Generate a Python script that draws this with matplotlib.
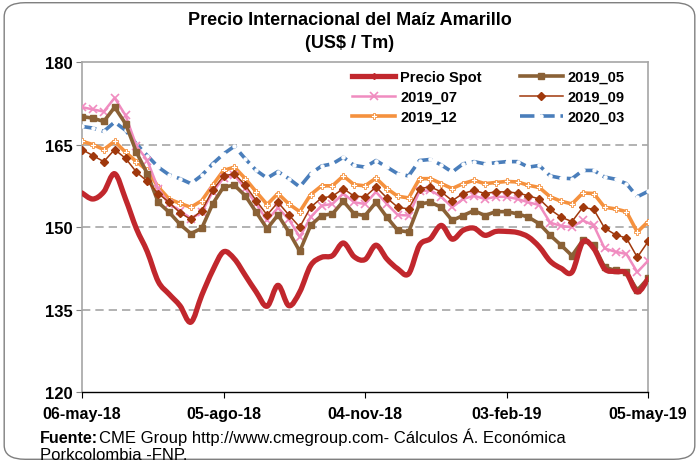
import matplotlib
matplotlib.use("Agg")
import matplotlib.pyplot as plt
import matplotlib.dates as mdates
from matplotlib.path import Path
from matplotlib.patches import PathPatch, FancyBboxPatch
from matplotlib.lines import Line2D
import numpy as np
import pandas as pd

plt.rcParams['font.family'] = ['Liberation Sans', 'DejaVu Sans']

dates = pd.date_range("2018-05-06", periods=53, freq="7D")

spot = [156.2, 155.1, 156.4, 159.7, 155.1, 149.7, 145.5, 140.1, 137.8, 135.7,
        132.7, 137.6, 142.1, 145.5, 144.2, 141.2, 138.2, 135.6, 139.4, 135.7,
        138.2, 143.0, 144.5, 144.8, 147.1, 144.6, 144.1, 146.7, 144.2, 142.4,
        141.5, 146.7, 147.9, 150.3, 147.8, 149.4, 149.8, 148.5, 149.2, 149.2,
        149.0, 148.2, 146.4, 143.8, 142.5, 141.8, 147.3, 146.1, 142.4, 141.9,
        141.6, 138.2, 140.6]
s2019_05 = [170.1, 169.8, 169.2, 171.8, 168.8, 163.6, 159.7, 154.5, 152.7, 150.5,
            148.8, 149.8, 154.2, 157.3, 157.6, 155.7, 152.7, 149.7, 152.2, 149.1,
            145.6, 150.3, 152.1, 152.4, 154.7, 152.4, 152.1, 154.5, 151.8, 149.4,
            149.1, 154.2, 154.5, 153.6, 151.2, 152.1, 153.0, 152.1, 152.8, 152.8,
            152.4, 151.8, 150.6, 148.5, 146.7, 144.8, 147.6, 146.7, 142.7, 142.1,
            141.8, 138.5, 140.7]
s2019_07 = [171.8, 171.4, 171.0, 173.5, 170.3, 164.8, 162.1, 157.0, 154.2, 153.0,
            151.5, 152.7, 156.4, 158.9, 159.4, 157.0, 154.2, 151.2, 153.5, 151.4,
            148.2, 151.8, 153.9, 154.2, 156.1, 154.5, 154.2, 156.4, 154.2, 152.2,
            152.1, 156.5, 156.7, 155.5, 153.6, 155.1, 155.7, 155.1, 155.5, 155.5,
            155.1, 154.5, 154.0, 150.8, 150.2, 150.0, 151.2, 150.3, 146.1, 145.5,
            145.1, 141.8, 143.9]
s2019_09 = [164.1, 163.0, 161.9, 164.1, 162.5, 160.0, 158.3, 156.1, 154.5, 152.6,
            151.4, 153.0, 156.7, 159.3, 159.7, 157.6, 154.8, 152.2, 154.5, 152.2,
            150.0, 153.6, 155.3, 155.6, 157.0, 155.6, 155.5, 157.3, 155.3, 153.6,
            153.3, 157.0, 157.3, 156.4, 154.8, 156.1, 156.7, 156.1, 156.4, 156.4,
            156.2, 155.7, 155.1, 153.2, 151.8, 151.0, 153.6, 153.2, 149.8, 148.6,
            148.0, 144.5, 147.4]
s2019_12 = [165.6, 165.0, 164.1, 165.6, 163.6, 161.9, 160.3, 157.3, 155.1, 154.3,
            153.6, 154.8, 157.6, 160.3, 160.9, 158.8, 156.4, 154.1, 156.1, 154.2,
            152.8, 155.9, 157.5, 157.5, 159.3, 157.7, 157.5, 158.9, 157.0, 155.6,
            155.3, 158.8, 158.8, 157.9, 157.0, 157.9, 158.5, 157.9, 158.1, 158.3,
            158.2, 157.6, 157.2, 155.5, 154.7, 154.2, 156.2, 156.1, 153.6, 153.3,
            152.8, 149.1, 151.0]
s2020_03 = [168.3, 168.0, 167.4, 169.1, 167.6, 165.1, 163.0, 160.9, 159.5, 158.8,
            157.9, 159.4, 161.5, 163.3, 164.7, 162.4, 160.3, 158.9, 160.1, 158.8,
            157.3, 159.7, 161.1, 161.5, 162.7, 161.2, 160.9, 162.1, 160.9, 159.7,
            159.3, 162.1, 162.3, 161.3, 160.0, 161.5, 161.9, 161.5, 161.7, 161.9,
            161.9, 160.9, 161.2, 159.3, 158.9, 158.8, 160.3, 160.3, 159.1, 158.7,
            157.9, 155.5, 156.5]

tick_dates = ["2018-05-06", "2018-08-05", "2018-11-04", "2019-02-03", "2019-05-05"]
tick_labels = ["06-may-18", "05-ago-18", "04-nov-18", "03-feb-19", "05-may-19"]
y_ticks = [120, 135, 150, 165, 180]

c_spot = "#C1272D"
c_05 = "#8A6136"
c_07 = "#F08CC0"
c_09 = "#A0380C"
c_12 = "#F5913E"
c_03 = "#4A7EBB"

fig = plt.figure(figsize=(6.99, 4.64), dpi=100)
fig.patches.append(FancyBboxPatch((0.006, 0.008), 0.988, 0.984,
                                  boxstyle="round,pad=0,rounding_size=0.03",
                                  transform=fig.transFigure, fc="white",
                                  ec="#7F7F7F", lw=1.0, zorder=-1))
ax = fig.add_axes([0.1173, 0.153, 0.81, 0.711])
ax.set_facecolor("none")

x = mdates.date2num(dates)

ax.plot(x, s2020_03, color=c_03, lw=2.6, dashes=(4.0, 1.6), marker='o', ms=2.2,
        mfc='white', mec='white', zorder=3)
ax.plot(x, s2019_12, color=c_12, lw=2.6, marker='P', ms=4.2, mfc='white',
        mec=c_12, mew=0.6, zorder=4)
ax.plot(x, s2019_09, color=c_09, lw=1.1, marker='D', ms=4.2, mfc=c_09,
        mec=c_09, zorder=5)
ax.plot(x, s2019_07, color=c_07, lw=1.8, marker='x', ms=6, mew=1.2, zorder=4)
ax.plot(x, s2019_05, color=c_05, lw=2.6, marker='s', ms=4.2, zorder=4)

# smoothed spot line (Catmull-Rom as Bezier)
ys = np.array(spot)
verts = [(x[0], ys[0])]
codes = [Path.MOVETO]
n = len(x)
for i in range(n - 1):
    p0 = (x[max(i - 1, 0)], ys[max(i - 1, 0)])
    p1 = (x[i], ys[i])
    p2 = (x[i + 1], ys[i + 1])
    p3 = (x[min(i + 2, n - 1)], ys[min(i + 2, n - 1)])
    c1 = (p1[0] + (p2[0] - p0[0]) / 6, p1[1] + (p2[1] - p0[1]) / 6)
    c2 = (p2[0] - (p3[0] - p1[0]) / 6, p2[1] - (p3[1] - p1[1]) / 6)
    verts += [c1, c2, p2]
    codes += [Path.CURVE4] * 3
ax.add_patch(PathPatch(Path(verts, codes), fc='none', ec=c_spot, lw=3.8,
                       capstyle='round', joinstyle='round', zorder=6))

ax.set_xlim(x[0], x[-1])
ax.set_ylim(120, 180)
ax.set_yticks(y_ticks)
ax.set_yticklabels([str(v) for v in y_ticks], fontsize=12, fontweight='bold')
ax.set_xticks(mdates.date2num(pd.to_datetime(tick_dates)))
ax.set_xticklabels(tick_labels, fontsize=11.5, fontweight='bold')
ax.tick_params(axis='x', direction='out', length=4, color='black', pad=6)
ax.tick_params(axis='y', direction='out', length=4, color='#7F7F7F', pad=3)

for v in [135, 150, 165]:
    ax.axhline(v, color='#A6A6A6', lw=1.2, dashes=(5, 3), zorder=1)

for s in ['top', 'right', 'left']:
    ax.spines[s].set_color('#A6A6A6')
    ax.spines[s].set_linewidth(1.2)
ax.spines['bottom'].set_color('black')
ax.spines['bottom'].set_linewidth(1.0)

handles = [
    Line2D([], [], color=c_spot, lw=3.8, marker='D', ms=3, label='Precio Spot'),
    Line2D([], [], color=c_07, lw=1.8, marker='x', ms=6, mew=1.2, label='2019_07'),
    Line2D([], [], color=c_12, lw=2.6, marker='P', ms=4.2, mfc='white', mec=c_12, mew=0.6, label='2019_12'),
    Line2D([], [], color=c_05, lw=2.6, marker='s', ms=4.2, label='2019_05'),
    Line2D([], [], color=c_09, lw=1.1, marker='D', ms=4.2, label='2019_09'),
    Line2D([], [], color=c_03, lw=2.6, dashes=(4.0, 1.6), marker='o', ms=2.2, mfc='white', mec='white', label='2020_03'),
]
leg = ax.legend(handles=handles, ncol=2, loc='upper left', bbox_to_anchor=(0.477, 0.977),
                frameon=False, prop={'weight': 'bold', 'size': 10.5},
                handlelength=2.95, columnspacing=2.6, labelspacing=0.42,
                handletextpad=0.35, borderpad=0, borderaxespad=0)

fig.text(0.5, 0.955, "Precio Internacional del Maíz Amarillo", ha='center', va='center',
         fontsize=13, fontweight='bold')
fig.text(0.5, 0.906, "(US$ / Tm)", ha='center', va='center',
         fontsize=13, fontweight='bold')

fig.text(0.057, 0.045, "Fuente:", ha='left', va='baseline', fontsize=11.5, fontweight='bold')
fig.text(0.142, 0.045, "CME Group http://www.cmegroup.com- Cálculos Á. Económica",
         ha='left', va='baseline', fontsize=12)
fig.text(0.057, 0.009, "Porkcolombia -FNP.", ha='left', va='baseline', fontsize=12)

fig.savefig("out.png", dpi=100)
